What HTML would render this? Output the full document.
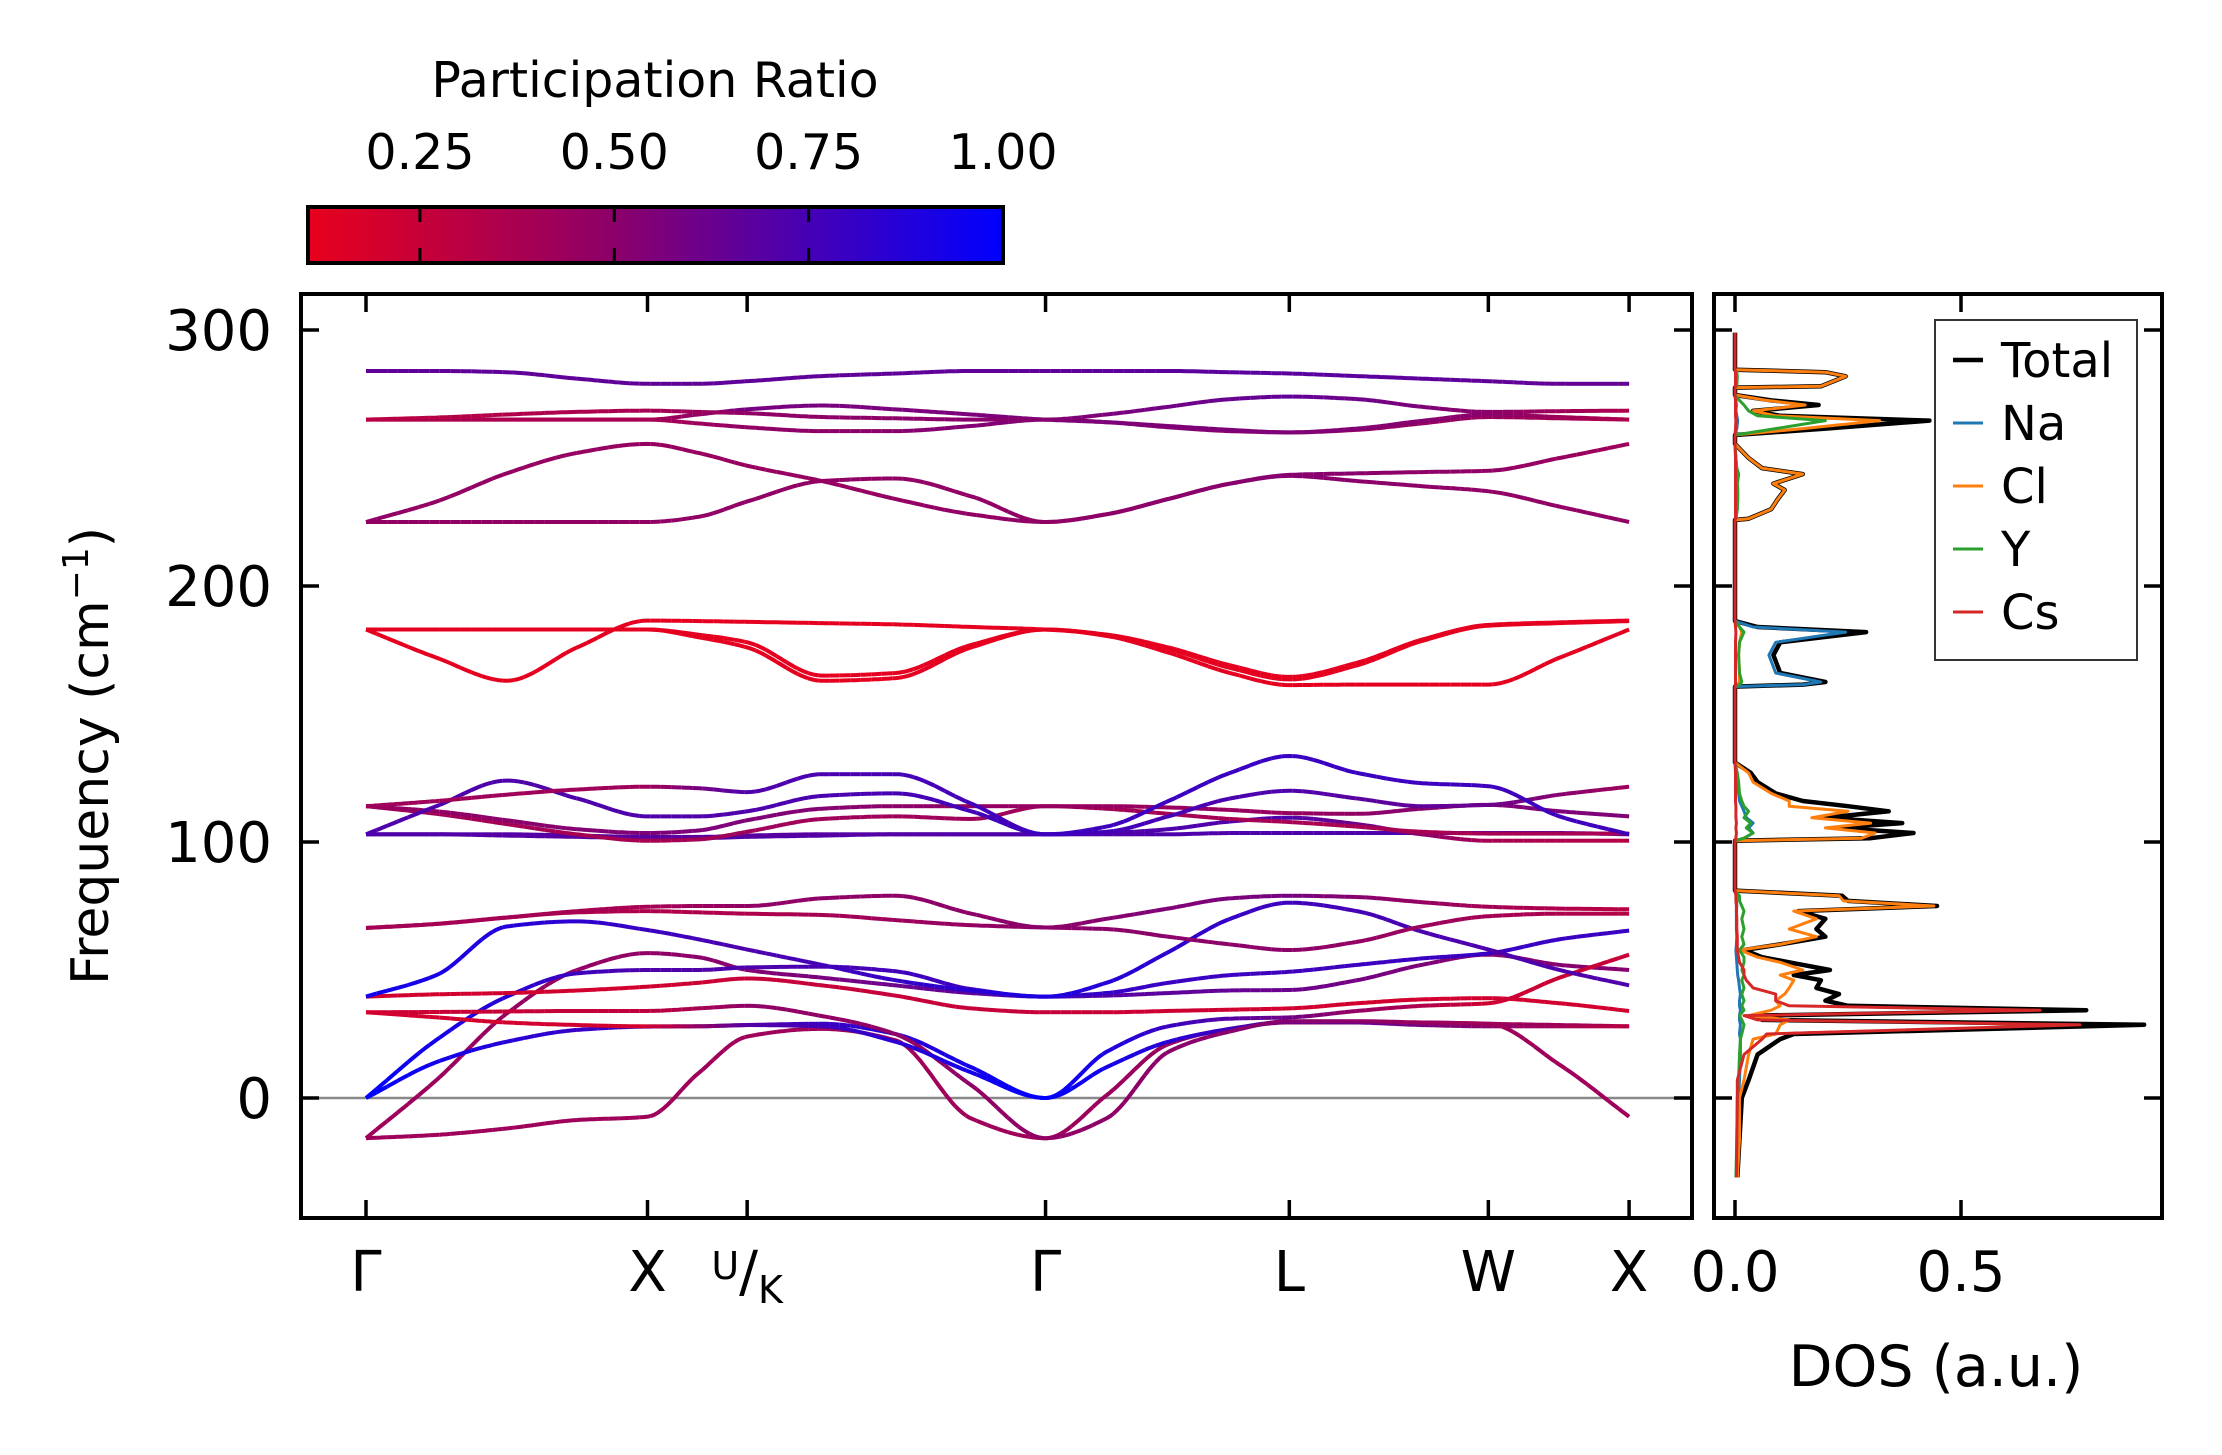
<!DOCTYPE html>
<html><head><meta charset="utf-8"><title>Phonon bands and DOS</title>
<style>
html,body{margin:0;padding:0;background:#fff;}
svg{display:block;font-family:"DejaVu Sans","Liberation Sans",sans-serif;}
</style></head>
<body>
<svg id="fig" width="2222" height="1455" viewBox="0 0 2222 1455" xmlns="http://www.w3.org/2000/svg">
<defs>
<linearGradient id="cmap" x1="0" y1="0" x2="1" y2="0">
<stop offset="0" stop-color="rgb(232,0,28)"/><stop offset="0.44" stop-color="rgb(140,0,105)"/><stop offset="1" stop-color="rgb(0,0,255)"/>
</linearGradient>
<clipPath id="clipMain"><rect x="301" y="294" width="1391" height="924"/></clipPath>
<clipPath id="clipDos"><rect x="1714" y="294" width="448" height="924"/></clipPath>
</defs>
<rect width="2222" height="1455" fill="#fff"/>
<g>
<text x="655" y="97" font-size="49" text-anchor="middle">Participation Ratio</text>
<rect x="308" y="207" width="695" height="56" fill="url(#cmap)" stroke="#000" stroke-width="4"/>
<g id="cbTicks"></g>
</g>
<g id="main">
<line x1="301" x2="1692" y1="1098" y2="1098" stroke="#888" stroke-width="2.5"/>
<g id="bands" clip-path="url(#clipMain)"></g>
<rect x="301" y="294" width="1391" height="924" fill="none" stroke="#000" stroke-width="4"/>
<g id="mainTicks"></g>
<text transform="translate(108,756) rotate(-90)" font-size="52" text-anchor="middle">Frequency (cm<tspan dy="-20" font-size="36">−1</tspan><tspan dy="20">)</tspan></text>
</g>
<g id="dos">
<g id="dosLines" clip-path="url(#clipDos)"></g>
<rect x="1714" y="294" width="448" height="924" fill="none" stroke="#000" stroke-width="4"/>
<g id="dosTicks"></g>
<text x="1936" y="1386" font-size="57" text-anchor="middle">DOS (a.u.)</text>
<g>
<rect x="1935" y="320" width="202" height="340" fill="#fff" stroke="#333" stroke-width="2"/>
<g id="legendRows"></g>
</g>
</g>
</svg>
<script>
// ---------- data ----------
const kGrid = [0,0.25,0.5,0.75,1,1.18,1.354,1.62,1.88,2.15,2.414,2.63,2.85,3.07,3.28,3.52,3.75,3.987,4.24,4.487];
const kSym = [0,1,1.354,2.414,3.28,3.987,4.487];
const kLabels = ["Γ","X","U/K","Γ","L","W","X"];
const yTicks = [0,100,200,300];
const cbTicks = [0.25,0.5,0.75,1.0];
const cbTickLabels = ["0.25","0.50","0.75","1.00"];
const dosTicks = [0,0.5];
const dosTickLabels = ["0.0","0.5"];

const band30 = [284,284,283.5,281,279,279,280,282,283,284,284,284,284,283.5,283,282,281,280,279,279];
const band29 = [265,265.8,267,268,268.5,268,267.5,266,265.5,265,265,267,270,273,274,273,270,268,268.3,268.5];
const band28 = [265,265,265,265,265,267,269,270.5,269,267,265,264,262.5,261,260,261.5,264.5,267,266,265];
const band27 = [265,265,265,265,265,263.5,262,260.5,260.5,262.5,265,264,262,260.5,260,261,263.5,266,265.5,265];
const band26 = [225,233,244,252,255.5,252,247,241,234,228,225,228,234,240,243.4,244,244.5,245,250,255.5];
const band25 = [225,225,225,225,225,227,233,241,242,235,225,228,234,240,243,241,239,237,231,225];
const band24 = [183,172,163,176,186.5,186.3,186,185.5,185,184,183,181,176,169,164.5,170,179,184.8,185.8,186.5];
const band23 = [183,183,183,183,183,181,178,165,166,177,183,181,175.5,168,163.5,169,178.5,184.5,185.5,186.3];
const band22 = [183,183,183,183,183,180,176,163,164,176,183,180.5,174,166,161.3,161.5,161.5,161.5,172,183];
const band21 = [114,116,118.5,120.5,121.6,121,119.5,126.5,126.5,115,103,106,116,127,133.6,127,123,121.8,110,103];
const band20 = [103,114,124,117,110,110,112,118,119,112,103,104,110,117,120,117,114,114.5,118.5,121.6];
const band19 = [114,112,108.5,105,103.5,104.5,108.5,113,114,114,114,114,113.5,112.5,111.3,111,113,114.5,112,110];
const band18 = [114,111,107,103,100.5,101,104,109,110,109,114,113,111,109,107.8,106,104,103.3,103.3,103.3];
const band17 = [103,103,103,102.5,102,102,102.5,103,103,103,103,103.5,105,108,109.5,107,103,100.5,100.5,100.5];
const band16 = [103,103,102.5,102,101.5,101.5,102,102.5,103,103,103,103,103,103.5,103.5,103.5,103.5,103.5,103.5,103];
const band10 = [66.4,68,70.5,73,74.7,75,75,78,79,72,66.6,70,74,78,79,78.5,76.5,74.7,74,73.7];
const band09 = [66.4,68,70.5,72.5,73,72.5,72,71.5,69.5,67.5,66.6,66,63,60,57.8,61,67,71,72,72];
const band08 = [39.6,48,67,69,65.6,62,58,52,46,42,39.6,45,57,70,76.3,73,65,58,50,44];
const band07 = [33.5,31.5,29.5,28.5,28,28,28.5,28,22,10,0,18,28,31,31.5,34,36,37,47,56];
const band06 = [33.5,33.6,33.8,34,34,35,36,32,25,5,-15.7,-8,18,26,30,30,29.5,29,13,-7.3];
const band05 = [39.6,40.5,41,42,43.5,45,46.7,44,40,35,33.5,33.5,34,34.5,35,37,38.5,39,37,34];
const band04 = [0,22.7,39.6,48.7,50,50,51,51.3,49.5,42.5,39.6,41,45,48,49.3,52,54.5,56.5,62,65.4];
const band03 = [0,14,22,26.6,27.9,28,28.5,29,25,12,0,12,22,27,29.8,29.5,28.5,28,28,28];
const band02 = [-15.7,7,33,50,56.6,55,50,47,44,41,39.6,40,41,42,42.2,46,52,56,52,50];
const band01 = [-15.7,-14.4,-11.9,-8.6,-7.3,9.6,24,27,22.6,-8,-15.7,1,21,27,29.5,29.5,29.5,29,28.5,28];

// participation ratio at the high-symmetry points (Γ X U/K Γ L W X)
const pr30 = [0.66,0.66,0.66,0.66,0.68,0.66,0.64];
const pr29 = [0.3,0.38,0.48,0.52,0.66,0.5,0.35];
const pr28 = [0.35,0.38,0.58,0.55,0.55,0.5,0.35];
const pr27 = [0.35,0.38,0.48,0.55,0.5,0.45,0.35];
const pr26 = [0.48,0.45,0.45,0.48,0.52,0.48,0.42];
const pr25 = [0.48,0.48,0.48,0.48,0.52,0.48,0.48];
const pr24 = [0.12,0.12,0.12,0.12,0.12,0.12,0.12];
const pr23 = [0.12,0.12,0.12,0.12,0.12,0.12,0.12];
const pr22 = [0.12,0.12,0.12,0.12,0.12,0.12,0.13];
const pr21 = [0.42,0.42,0.72,0.78,0.8,0.78,0.78];
const pr20 = [0.72,0.72,0.72,0.78,0.72,0.62,0.42];
const pr19 = [0.45,0.55,0.55,0.45,0.45,0.55,0.55];
const pr18 = [0.42,0.38,0.42,0.42,0.38,0.38,0.38];
const pr17 = [0.72,0.68,0.68,0.72,0.72,0.38,0.32];
const pr16 = [0.72,0.68,0.72,0.72,0.72,0.72,0.72];
const pr10 = [0.4,0.38,0.48,0.5,0.58,0.4,0.3];
const pr09 = [0.4,0.35,0.35,0.5,0.5,0.4,0.32];
const pr08 = [0.95,0.8,0.72,0.9,0.78,0.72,0.72];
const pr07 = [0.2,0.2,0.7,1.0,0.6,0.22,0.25];
const pr06 = [0.22,0.28,0.48,0.48,0.52,0.42,0.42];
const pr05 = [0.2,0.2,0.25,0.25,0.2,0.2,0.2];
const pr04 = [1.0,0.72,0.72,0.82,0.78,0.8,0.8];
const pr03 = [1.0,0.75,0.72,1.0,0.72,0.5,0.3];
const pr02 = [0.42,0.48,0.52,0.72,0.62,0.52,0.52];
const pr01 = [0.42,0.42,0.42,0.42,0.48,0.42,0.42];

// DOS
const dosFreq = [-31,-16,0,7,17,23,25,28.6,30.5,32.2,34.3,36,38,40.6,43,46,48,50,53,55,57.8,60,63,66,70,73,75,77,79,81,100.5,101.5,103.5,105.5,107.4,109.5,112,114,116,119,123.4,127,131,160.7,161.5,162.5,166,173,178,182,184,186.3,225.8,226.3,230,234,237.5,240,243.7,246,250,255.5,259,261.5,264.6,266.5,268.4,270.7,272.5,274.6,277.5,278,281.9,283.5,284.5,299];
const dosTotal = [0.005,0.01,0.015,0.03,0.05,0.10,0.13,0.905,0.06,0.04,0.777,0.25,0.2,0.23,0.18,0.19,0.13,0.21,0.12,0.06,0.02,0.1,0.2,0.18,0.2,0.14,0.447,0.25,0.237,0,0,0.3,0.395,0.22,0.37,0.2,0.34,0.25,0.15,0.09,0.05,0.035,0,0,0.15,0.2,0.1,0.085,0.1,0.29,0.05,0,0,0.03,0.08,0.095,0.11,0.085,0.15,0.06,0.03,0,0,0.2,0.43,0.1,0.04,0.185,0.08,0,0,0.19,0.245,0.2,0,0];
const dosNa = [0.003,0.005,0.008,0.01,0.012,0.012,0.01,0.012,0.01,0.01,0.012,0.01,0.01,0.012,0.01,0.008,0.006,0.005,0.004,0.003,0.002,0.003,0.004,0.003,0.003,0.003,0.004,0.003,0.003,0,0,0.02,0.04,0.03,0.04,0.025,0.02,0.015,0.01,0.008,0.005,0.004,0,0,0.15,0.19,0.09,0.075,0.09,0.245,0.04,0,0,0.002,0.005,0.006,0.006,0.005,0.008,0.004,0.002,0,0,0.004,0.006,0.004,0.002,0.003,0.002,0,0,0.002,0.003,0.002,0,0];
const dosCl = [0.005,0.01,0.01,0.02,0.03,0.04,0.09,0.1,0.12,0.03,0.08,0.1,0.09,0.11,0.12,0.13,0.1,0.15,0.1,0.05,0.01,0.1,0.18,0.12,0.18,0.13,0.44,0.24,0.23,0,0,0.28,0.31,0.2,0.3,0.17,0.25,0.12,0.12,0.08,0.04,0.03,0,0,0.005,0.01,0.01,0.008,0.01,0.015,0.01,0,0,0.03,0.08,0.095,0.11,0.085,0.15,0.06,0.03,0,0,0.15,0.32,0.09,0.04,0.155,0.07,0,0,0.19,0.245,0.2,0,0];
const dosY = [0.002,0.004,0.005,0.008,0.01,0.012,0.015,0.02,0.015,0.01,0.02,0.015,0.02,0.015,0.02,0.015,0.02,0.015,0.02,0.02,0.01,0.02,0.015,0.02,0.015,0.02,0.015,0.01,0.01,0,0,0.02,0.04,0.025,0.035,0.02,0.03,0.02,0.015,0.01,0.008,0.005,0,0,0.01,0.015,0.01,0.008,0.01,0.02,0.01,0,0,0.002,0.005,0.006,0.006,0.005,0.008,0.004,0.002,0,0,0.09,0.2,0.05,0.03,0.02,0.01,0,0,0.004,0.005,0.004,0,0];
const dosCs = [0.003,0.004,0.005,0.005,0.02,0.06,0.07,0.763,0.05,0.02,0.675,0.12,0.09,0.09,0.04,0.025,0.02,0.02,0.01,0.008,0.005,0.005,0.005,0.004,0.004,0.003,0.003,0.002,0.002,0,0,0.002,0.003,0.002,0.003,0.002,0.002,0.002,0.001,0.001,0.001,0.001,0,0,0.001,0.001,0.001,0.001,0.001,0.002,0.001,0,0,0.001,0.001,0.001,0.001,0.001,0.001,0.001,0.001,0,0,0.001,0.002,0.001,0.001,0.001,0.001,0,0,0.001,0.001,0.001,0,0];
const legendNames = ["Total","Na","Cl","Y","Cs"];
const legendColors = ["#000000","#1f77b4","#ff7f0e","#2ca02c","#d62728"];

// ---------- axes ----------
const NS = "http://www.w3.org/2000/svg";
const kx = k => 366 + k * 281.5;
const fy = f => 1098 - f * 2.56;
const dx = v => 1735 + v * 452;
const cbx = p => 308 + (p - 0.106) / 0.894 * 695;

function mk(tag, attrs, parent) {
  const el = document.createElementNS(NS, tag);
  for (const a in attrs) el.setAttribute(a, attrs[a]);
  parent.appendChild(el);
  return el;
}
function prColor(p) {
  let t = Math.max(0, Math.min(1, (p - 0.106) / 0.894));
  const a = [232,0,28], m = [140,0,105], b = [0,0,255];
  let c;
  if (t < 0.44) { const u = t / 0.44; c = a.map((v, i) => v + (m[i] - v) * u); }
  else { const u = (t - 0.44) / 0.56; c = m.map((v, i) => v + (b[i] - v) * u); }
  return "rgb(" + c.map(Math.round).join(",") + ")";
}
function monoSpline(xs, ys) {
  const n = xs.length, d = [], m = new Array(n);
  for (let i = 0; i < n - 1; i++) d.push((ys[i+1] - ys[i]) / (xs[i+1] - xs[i]));
  m[0] = d[0]; m[n-1] = d[n-2];
  for (let i = 1; i < n - 1; i++) {
    if (d[i-1] * d[i] <= 0) m[i] = 0;
    else { const w1 = 2*(xs[i+1]-xs[i]) + (xs[i]-xs[i-1]), w2 = (xs[i+1]-xs[i]) + 2*(xs[i]-xs[i-1]); m[i] = (w1 + w2) / (w1 / d[i-1] + w2 / d[i]); }
  }
  return x => {
    let i = 0; while (i < n - 2 && x > xs[i+1]) i++;
    const h = xs[i+1] - xs[i], t = (x - xs[i]) / h, t2 = t*t, t3 = t2*t;
    return (2*t3-3*t2+1)*ys[i] + (t3-2*t2+t)*h*m[i] + (-2*t3+3*t2)*ys[i+1] + (t3-t2)*h*m[i+1];
  };
}
function linInterp(xs, ys, x) {
  let i = 0; while (i < xs.length - 2 && x > xs[i+1]) i++;
  const t = (x - xs[i]) / (xs[i+1] - xs[i]);
  return ys[i] + (ys[i+1] - ys[i]) * Math.max(0, Math.min(1, t));
}

// ---------- bands ----------
const bandList = [band01,band02,band03,band04,band05,band06,band07,band08,band09,band10,band16,band17,band18,band19,band20,band21,band22,band23,band24,band25,band26,band27,band28,band29,band30];
const prList = [pr01,pr02,pr03,pr04,pr05,pr06,pr07,pr08,pr09,pr10,pr16,pr17,pr18,pr19,pr20,pr21,pr22,pr23,pr24,pr25,pr26,pr27,pr28,pr29,pr30];
const gBands = document.getElementById("bands");
bandList.forEach((vals, bi) => {
  const g = mk("g", {}, gBands);
  
  
  const f = monoSpline(kGrid, vals);
  const N = 360, kmax = kGrid[kGrid.length - 1];
  const pts = [];
  for (let i = 0; i <= N; i++) { const k = kmax * i / N; pts.push([k, f(k)]); }
  for (let i = 0; i < N; i += 3) {
    const seg = pts.slice(i, Math.min(i + 4, N + 1));
    const kmid = seg[Math.floor(seg.length / 2)][0];
    const col = prColor(linInterp(kSym, prList[bi], kmid));
    const pl = mk("polyline", {points: seg.map(p => kx(p[0]).toFixed(1) + "," + fy(p[1]).toFixed(1)).join(" "), fill: "none", stroke: col, "stroke-width": 4, "stroke-linecap": "butt"}, g);
    
    
  }
});

// ---------- main ticks ----------
const gT = document.getElementById("mainTicks");
yTicks.forEach(v => {
  const y = fy(v);
  const t1 = mk("line", {x1: 301, x2: 319, y1: y, y2: y, stroke: "#000", "stroke-width": 3.5}, gT);
  
  
  const t2 = mk("line", {x1: 1674, x2: 1692, y1: y, y2: y, stroke: "#000", "stroke-width": 3.5}, gT);
  
  
  const tx = mk("text", {x: 272, y: y + 20, "font-size": 56, "text-anchor": "end"}, gT);
  tx.textContent = String(v);
  
  
});
kSym.forEach((k, i) => {
  const x = kx(k);
  const t1 = mk("line", {x1: x, x2: x, y1: 1218, y2: 1200, stroke: "#000", "stroke-width": 3.5}, gT);
  
  
  const t2 = mk("line", {x1: x, x2: x, y1: 294, y2: 312, stroke: "#000", "stroke-width": 3.5}, gT);
  
  
  const tx = mk("text", {x: x, y: 1291, "font-size": 56, "text-anchor": "middle"}, gT);
  if (kLabels[i] === "U/K") {
    const a = mk("tspan", {"font-size": 38, dy: -12}, tx); a.textContent = "U";
    const b = mk("tspan", {"font-size": 56, dy: 12}, tx); b.textContent = "/";
    const c = mk("tspan", {"font-size": 38, dy: 12}, tx); c.textContent = "K";
  } else tx.textContent = kLabels[i];
  
  
});

// ---------- colorbar ticks ----------
const gC = document.getElementById("cbTicks");
cbTicks.forEach((p, i) => {
  const x = cbx(p);
  if (p < 0.99) {
    const a = mk("line", {x1: x, x2: x, y1: 207, y2: 222, stroke: "#000", "stroke-width": 3}, gC);
    
    
    const b = mk("line", {x1: x, x2: x, y1: 248, y2: 263, stroke: "#000", "stroke-width": 3}, gC);
    
    
  }
  const tx = mk("text", {x: x, y: 169, "font-size": 49, "text-anchor": "middle"}, gC);
  tx.textContent = cbTickLabels[i];
  
  
});

// ---------- DOS ----------
const gD = document.getElementById("dosLines");
const dosSeries = [dosTotal, dosNa, dosCl, dosY, dosCs];
dosSeries.forEach((vals, si) => {
  const pl = mk("polyline", {points: vals.map((v, i) => dx(v).toFixed(1) + "," + fy(dosFreq[i]).toFixed(1)).join(" "), fill: "none", stroke: legendColors[si], "stroke-width": si === 0 ? 4.5 : 3, "stroke-linejoin": "round"}, gD);
  
  
});
const gDT = document.getElementById("dosTicks");
dosTicks.forEach((v, i) => {
  const x = dx(v);
  const a = mk("line", {x1: x, x2: x, y1: 1218, y2: 1200, stroke: "#000", "stroke-width": 3.5}, gDT);
  
  
  const b = mk("line", {x1: x, x2: x, y1: 294, y2: 312, stroke: "#000", "stroke-width": 3.5}, gDT);
  
  
  const tx = mk("text", {x: x, y: 1291, "font-size": 56, "text-anchor": "middle"}, gDT);
  tx.textContent = dosTickLabels[i];
  
  
});
yTicks.forEach(v => {
  const y = fy(v);
  const a = mk("line", {x1: 1714, x2: 1732, y1: y, y2: y, stroke: "#000", "stroke-width": 3.5}, gDT);
  
  
  const b = mk("line", {x1: 2144, x2: 2162, y1: y, y2: y, stroke: "#000", "stroke-width": 3.5}, gDT);
  
  
});

// ---------- legend ----------
const gL = document.getElementById("legendRows");
legendNames.forEach((n, i) => {
  const y = 360 + i * 63;
  const ln = mk("line", {x1: 1953, x2: 1983, y1: y, y2: y, stroke: legendColors[i], "stroke-width": i === 0 ? 4.5 : 3}, gL);
  
  
  const tx = mk("text", {x: 2001, y: y + 17, "font-size": 48}, gL);
  tx.textContent = n;
  
  
});
</script>
</body></html>
